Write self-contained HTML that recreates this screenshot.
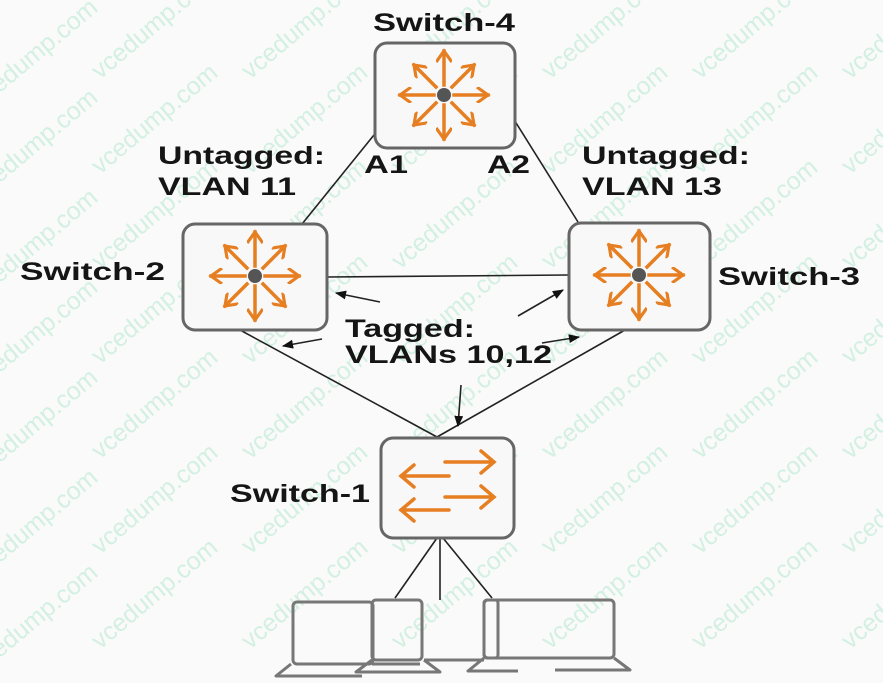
<!DOCTYPE html>
<html><head><meta charset="utf-8"><style>
html,body{margin:0;padding:0;background:#fafafa;}
svg{display:block;font-family:"Liberation Sans",Arial,sans-serif;}
.l{font-weight:bold;font-size:25px;fill:#151515;}
.w{font-size:25px;fill:#d3f0e2;}
</style></head><body>
<svg width="883" height="683" viewBox="0 0 883 683" xmlns="http://www.w3.org/2000/svg">
<defs>
<marker id="ah" viewBox="0 0 10 10" refX="9" refY="5" markerWidth="7" markerHeight="7" orient="auto"><path d="M0,1 L10,5 L0,9 z" fill="#111"/></marker>
<marker id="oh" viewBox="0 0 10 10" refX="8" refY="5" markerWidth="4.5" markerHeight="4.5" orient="auto"><path d="M1,0 L8,5 L1,10" fill="none" stroke="#e67e22" stroke-width="2"/></marker>
<g id="star" stroke="#e67e22" stroke-width="3.5" fill="none" stroke-linecap="square">
<line x1="10" y1="0" x2="44" y2="0" marker-end="url(#oh)"/>
<line x1="-10" y1="0" x2="-44" y2="0" marker-end="url(#oh)"/>
<line x1="0" y1="10" x2="0" y2="44" marker-end="url(#oh)"/>
<line x1="0" y1="-10" x2="0" y2="-44" marker-end="url(#oh)"/>
<line x1="8" y1="8" x2="30" y2="30" marker-end="url(#oh)"/>
<line x1="-8" y1="8" x2="-30" y2="30" marker-end="url(#oh)"/>
<line x1="8" y1="-8" x2="30" y2="-30" marker-end="url(#oh)"/>
<line x1="-8" y1="-8" x2="-30" y2="-30" marker-end="url(#oh)"/>
<circle cx="0" cy="0" r="7" fill="#555" stroke="none"/>
</g>
</defs>
<g>
<text class="w" transform="translate(-20,110) rotate(-40)">vcedump.com</text>
<text class="w" transform="translate(100,80) rotate(-40)">vcedump.com</text>
<text class="w" transform="translate(250,80) rotate(-40)">vcedump.com</text>
<text class="w" transform="translate(400,80) rotate(-40)">vcedump.com</text>
<text class="w" transform="translate(550,80) rotate(-40)">vcedump.com</text>
<text class="w" transform="translate(700,80) rotate(-40)">vcedump.com</text>
<text class="w" transform="translate(850,80) rotate(-40)">vcedump.com</text>
<text class="w" transform="translate(-20,200) rotate(-40)">vcedump.com</text>
<text class="w" transform="translate(100,175) rotate(-40)">vcedump.com</text>
<text class="w" transform="translate(250,175) rotate(-40)">vcedump.com</text>
<text class="w" transform="translate(400,175) rotate(-40)">vcedump.com</text>
<text class="w" transform="translate(550,175) rotate(-40)">vcedump.com</text>
<text class="w" transform="translate(700,175) rotate(-40)">vcedump.com</text>
<text class="w" transform="translate(850,175) rotate(-40)">vcedump.com</text>
<text class="w" transform="translate(-20,300) rotate(-40)">vcedump.com</text>
<text class="w" transform="translate(100,270) rotate(-40)">vcedump.com</text>
<text class="w" transform="translate(250,270) rotate(-40)">vcedump.com</text>
<text class="w" transform="translate(400,270) rotate(-40)">vcedump.com</text>
<text class="w" transform="translate(550,270) rotate(-40)">vcedump.com</text>
<text class="w" transform="translate(700,270) rotate(-40)">vcedump.com</text>
<text class="w" transform="translate(850,270) rotate(-40)">vcedump.com</text>
<text class="w" transform="translate(-20,390) rotate(-40)">vcedump.com</text>
<text class="w" transform="translate(100,365) rotate(-40)">vcedump.com</text>
<text class="w" transform="translate(250,365) rotate(-40)">vcedump.com</text>
<text class="w" transform="translate(400,365) rotate(-40)">vcedump.com</text>
<text class="w" transform="translate(550,365) rotate(-40)">vcedump.com</text>
<text class="w" transform="translate(700,365) rotate(-40)">vcedump.com</text>
<text class="w" transform="translate(850,365) rotate(-40)">vcedump.com</text>
<text class="w" transform="translate(-20,480) rotate(-40)">vcedump.com</text>
<text class="w" transform="translate(100,460) rotate(-40)">vcedump.com</text>
<text class="w" transform="translate(250,460) rotate(-40)">vcedump.com</text>
<text class="w" transform="translate(400,460) rotate(-40)">vcedump.com</text>
<text class="w" transform="translate(550,460) rotate(-40)">vcedump.com</text>
<text class="w" transform="translate(700,460) rotate(-40)">vcedump.com</text>
<text class="w" transform="translate(850,460) rotate(-40)">vcedump.com</text>
<text class="w" transform="translate(-20,580) rotate(-40)">vcedump.com</text>
<text class="w" transform="translate(100,555) rotate(-40)">vcedump.com</text>
<text class="w" transform="translate(250,555) rotate(-40)">vcedump.com</text>
<text class="w" transform="translate(400,555) rotate(-40)">vcedump.com</text>
<text class="w" transform="translate(550,555) rotate(-40)">vcedump.com</text>
<text class="w" transform="translate(700,555) rotate(-40)">vcedump.com</text>
<text class="w" transform="translate(850,555) rotate(-40)">vcedump.com</text>
<text class="w" transform="translate(-20,675) rotate(-40)">vcedump.com</text>
<text class="w" transform="translate(100,650) rotate(-40)">vcedump.com</text>
<text class="w" transform="translate(250,650) rotate(-40)">vcedump.com</text>
<text class="w" transform="translate(400,650) rotate(-40)">vcedump.com</text>
<text class="w" transform="translate(550,650) rotate(-40)">vcedump.com</text>
<text class="w" transform="translate(700,650) rotate(-40)">vcedump.com</text>
<text class="w" transform="translate(850,650) rotate(-40)">vcedump.com</text>
</g>
<g stroke="#222" stroke-width="1.6" fill="none">
<line x1="378" y1="130" x2="302" y2="224"/>
<line x1="513" y1="118" x2="578" y2="222"/>
<line x1="327" y1="277" x2="568" y2="275"/>
<line x1="240" y1="330" x2="437" y2="437"/>
<line x1="625" y1="330" x2="437" y2="437"/>
<line x1="437" y1="538" x2="395" y2="598"/>
<line x1="440" y1="538" x2="440" y2="600"/>
<line x1="443" y1="538" x2="492" y2="598"/>
<line x1="380" y1="302" x2="336" y2="293" marker-end="url(#ah)"/>
<line x1="322" y1="339" x2="283" y2="346" marker-end="url(#ah)"/>
<line x1="518" y1="316" x2="563" y2="290" marker-end="url(#ah)"/>
<line x1="542" y1="343" x2="579" y2="337" marker-end="url(#ah)"/>
<line x1="461" y1="385" x2="458" y2="426" marker-end="url(#ah)"/>
</g>
<g fill="#f8f8f8" stroke="#666" stroke-width="3">
<rect x="375" y="43" width="140" height="105" rx="12"/>
<rect x="183" y="224" width="144" height="106" rx="12"/>
<rect x="569" y="223" width="141" height="107" rx="12"/>
<rect x="381" y="438" width="133" height="100" rx="12"/>
</g>
<use href="#star" transform="translate(444,95)"/>
<use href="#star" transform="translate(255,276)"/>
<use href="#star" transform="translate(639,275)"/>
<g stroke="#e67e22" stroke-width="3.5" fill="none" stroke-linecap="round">
<path d="M445,462 H494 M481,451 L494,462 L481,473"/>
<path d="M449,476 H401 M414,465 L401,476 L414,487"/>
<path d="M445,497 H494 M481,486 L494,497 L481,508"/>
<path d="M449,510 H401 M414,499 L401,510 L414,521"/>
</g>
<g fill="none" stroke="#777" stroke-width="3" stroke-linejoin="round">
<rect x="293" y="602" width="80" height="62" rx="4"/>
<rect x="372" y="600" width="50" height="60" rx="4"/>
<rect x="484" y="600" width="130" height="58" rx="4"/>
<rect x="484" y="600" width="14" height="58" rx="3"/>
<path d="M291,664 L276,676 L362,676"/>
<path d="M372,660 L356,672 L440,672 L424,660"/>
<path d="M484,658 L468,671 L518,671"/>
<path d="M420,664 L372,664 M424,660 L484,660 M614,658 L630,670 L555,670"/>
</g>
<g lengthAdjust="spacingAndGlyphs">
<text class="l" x="373" y="31" textLength="142" lengthAdjust="spacingAndGlyphs">Switch-4</text>
<text class="l" x="158" y="164" textLength="167" lengthAdjust="spacingAndGlyphs">Untagged:</text>
<text class="l" x="158" y="195" textLength="138" lengthAdjust="spacingAndGlyphs">VLAN 11</text>
<text class="l" x="364" y="173" textLength="44" lengthAdjust="spacingAndGlyphs">A1</text>
<text class="l" x="487" y="173" textLength="43" lengthAdjust="spacingAndGlyphs">A2</text>
<text class="l" x="582" y="164" textLength="168" lengthAdjust="spacingAndGlyphs">Untagged:</text>
<text class="l" x="582" y="195" textLength="140" lengthAdjust="spacingAndGlyphs">VLAN 13</text>
<text class="l" x="20" y="280" textLength="145" lengthAdjust="spacingAndGlyphs">Switch-2</text>
<text class="l" x="718" y="285" textLength="142" lengthAdjust="spacingAndGlyphs">Switch-3</text>
<text class="l" x="345" y="337" textLength="130" lengthAdjust="spacingAndGlyphs">Tagged:</text>
<text class="l" x="345" y="363" textLength="207" lengthAdjust="spacingAndGlyphs">VLANs 10,12</text>
<text class="l" x="230" y="502" textLength="140" lengthAdjust="spacingAndGlyphs">Switch-1</text>
</g>
</svg>
</body></html>
